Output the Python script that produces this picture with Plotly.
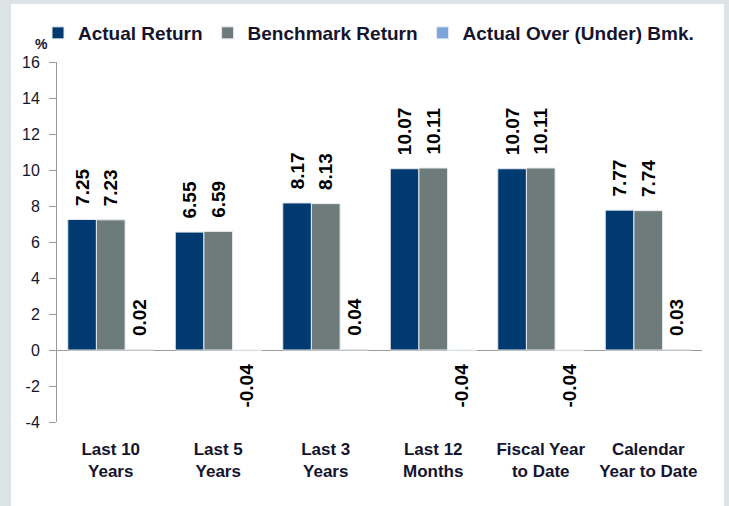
import plotly.graph_objects as go

categories = ["Last 10<br>Years", "Last 5<br>Years", "Last 3<br>Years", "Last 12<br>Months",
              "Fiscal Year<br>to Date", "Calendar<br>Year to Date"]
actual = [7.25, 6.55, 8.17, 10.07, 10.07, 7.77]
benchmark = [7.23, 6.59, 8.13, 10.11, 10.11, 7.74]
over_under = [0.02, -0.04, 0.04, -0.04, -0.04, 0.03]
y_ticks = [-4, -2, 0, 2, 4, 6, 8, 10, 12, 14, 16]

FONT = "Liberation Sans, Arial, sans-serif"
TXT = "#14142e"
lab_font = dict(family=FONT, size=19, color="#000000", weight="bold")
NB = "\u00a0\u00a0"

def fmt(v):
    out = []
    for x in v:
        s = f"{x:.2f}"
        out.append(NB + s if x >= 0 else s + NB)
    return out

fig = go.Figure()
series = [("Actual Return", actual, "#003a70"),
          ("Benchmark Return", benchmark, "#6e7b7b"),
          ("Actual Over (Under) Bmk.", over_under, "#7aa6dc")]
for name, vals, col in series:
    fig.add_trace(go.Bar(
        x=categories, y=vals, name=name,
        marker=dict(color=col, line=dict(color="#e6eaec", width=1)),
        text=fmt(vals), textposition="outside", textangle=-90,
        textfont=lab_font, constraintext="none", cliponaxis=False,
    ))

W, H = 729, 506
L, R, T, B = 57, 702, 62, 422
pw, ph = R - L, B - T
fig.add_shape(type="rect", xref="paper", yref="paper", layer="below",
              x0=(11 - L) / pw, x1=(724 - L) / pw,
              y0=(B - 520) / ph, y1=(B - 4) / ph,
              fillcolor="white", line=dict(width=0))
fig.add_annotation(xref="paper", yref="paper", x=(41 - L) / pw, y=(B - 44) / ph,
                   text="%", showarrow=False, xanchor="center", yanchor="middle",
                   font=dict(family=FONT, size=14, color=TXT, weight="bold"))

fig.update_layout(
    width=W, height=H,
    margin=dict(l=L, r=W - R, t=T, b=H - B, pad=0, autoexpand=False),
    paper_bgcolor="#dce3e5", plot_bgcolor="white",
    barmode="group", bargap=0.2, bargroupgap=0,
    font=dict(family=FONT, size=15, color=TXT),
    legend=dict(orientation="h", x=(38 - L) / pw, y=(B - 33) / ph,
                xanchor="left", yanchor="middle",
                font=dict(family=FONT, size=19, color=TXT, weight="bold"),
                tracegroupgap=0, bgcolor="rgba(0,0,0,0)"),
    showlegend=True,
)
fig.update_xaxes(showline=False, showgrid=False, ticks="",
                 tickfont=dict(family=FONT, size=17, color=TXT, weight="bold"),
                 ticklabelstandoff=15)
fig.update_yaxes(range=[-4, 16], tickvals=y_ticks, ticktext=[str(v) for v in y_ticks],
                 showgrid=False,
                 showline=True, linecolor="#9a9a9a", linewidth=1,
                 ticks="outside", ticklen=7, tickcolor="#9a9a9a",
                 zeroline=True, zerolinecolor="#9a9a9a", zerolinewidth=1,
                 tickfont=dict(family=FONT, size=16, color=TXT),
                 ticklabelstandoff=6)

fig.write_html("out.html", config={"displayModeBar": False})
with open("out.html", encoding="utf-8") as f:
    html = f.read()
html = html.replace("<head>", "<head><style>html,body{margin:0;padding:0;overflow:hidden;}</style>", 1)
with open("out.html", "w", encoding="utf-8") as f:
    f.write(html)
